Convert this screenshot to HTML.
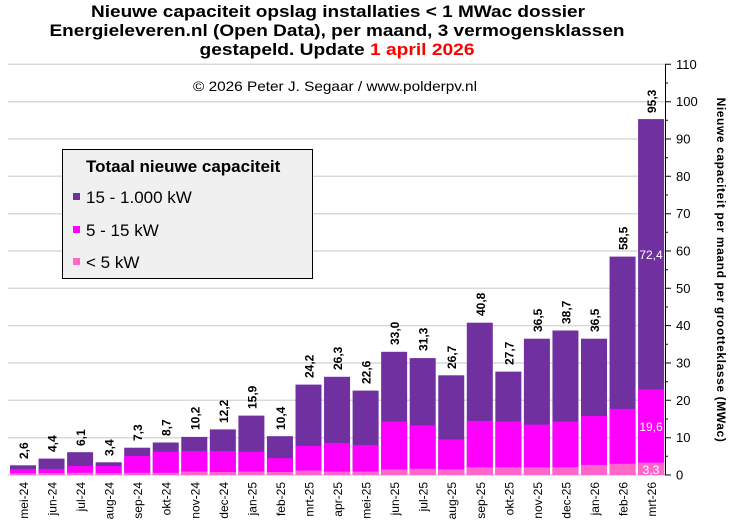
<!DOCTYPE html>
<html><head><meta charset="utf-8"><style>
html,body{margin:0;padding:0;background:#fff}
svg{display:block;font-family:"Liberation Sans","DejaVu Sans",sans-serif}
</style></head><body>
<svg width="731" height="527" viewBox="0 0 731 527" xmlns="http://www.w3.org/2000/svg">
<g stroke="#d9d9d9" stroke-width="1.5">
<line x1="8" x2="665" y1="64.3" y2="64.3"/><line x1="8" x2="665" y1="101.7" y2="101.7"/><line x1="8" x2="665" y1="139" y2="139"/><line x1="8" x2="665" y1="176.3" y2="176.3"/><line x1="8" x2="665" y1="213.7" y2="213.7"/><line x1="8" x2="665" y1="251" y2="251"/><line x1="8" x2="665" y1="288.3" y2="288.3"/><line x1="8" x2="665" y1="325.6" y2="325.6"/><line x1="8" x2="665" y1="363" y2="363"/><line x1="8" x2="665" y1="400.3" y2="400.3"/><line x1="8" x2="665" y1="437.7" y2="437.7"/><line x1="8" x2="665" y1="475" y2="475"/>
</g>
<g fill="#7030a0">
<rect x="10" y="465.3" width="26" height="9.7"/><rect x="38.55" y="458.6" width="26" height="16.4"/><rect x="67.1" y="452.2" width="26" height="22.8"/><rect x="95.65" y="462.3" width="26" height="12.7"/><rect x="124.2" y="447.7" width="26" height="27.3"/><rect x="152.75" y="442.5" width="26" height="32.5"/><rect x="181.3" y="436.9" width="26" height="38.1"/><rect x="209.85" y="429.4" width="26" height="45.6"/><rect x="238.4" y="415.6" width="26" height="59.4"/><rect x="266.95" y="436.2" width="26" height="38.8"/><rect x="295.5" y="384.6" width="26" height="90.4"/><rect x="324.05" y="376.8" width="26" height="98.2"/><rect x="352.6" y="390.6" width="26" height="84.4"/><rect x="381.15" y="351.8" width="26" height="123.2"/><rect x="409.7" y="358.1" width="26" height="116.9"/><rect x="438.25" y="375.3" width="26" height="99.7"/><rect x="466.8" y="322.7" width="26" height="152.3"/><rect x="495.35" y="371.6" width="26" height="103.4"/><rect x="523.9" y="338.7" width="26" height="136.3"/><rect x="552.45" y="330.5" width="26" height="144.5"/><rect x="581" y="338.7" width="26" height="136.3"/><rect x="609.55" y="256.6" width="26" height="218.4"/><rect x="638.1" y="119.1" width="26" height="355.9"/>
</g>
<g fill="#ff00ff">
<rect x="10" y="469" width="26" height="6"/><rect x="38.55" y="469" width="26" height="6"/><rect x="67.1" y="466" width="26" height="9"/><rect x="95.65" y="466" width="26" height="9"/><rect x="124.2" y="456" width="26" height="19"/><rect x="152.75" y="451.8" width="26" height="23.2"/><rect x="181.3" y="451.1" width="26" height="23.9"/><rect x="209.85" y="451.1" width="26" height="23.9"/><rect x="238.4" y="451.8" width="26" height="23.2"/><rect x="266.95" y="458.2" width="26" height="16.8"/><rect x="295.5" y="445.9" width="26" height="29.1"/><rect x="324.05" y="442.9" width="26" height="32.1"/><rect x="352.6" y="445.1" width="26" height="29.9"/><rect x="381.15" y="421.6" width="26" height="53.4"/><rect x="409.7" y="425.3" width="26" height="49.7"/><rect x="438.25" y="439.5" width="26" height="35.5"/><rect x="466.8" y="420.9" width="26" height="54.1"/><rect x="495.35" y="421.6" width="26" height="53.4"/><rect x="523.9" y="424.6" width="26" height="50.4"/><rect x="552.45" y="421.6" width="26" height="53.4"/><rect x="581" y="416" width="26" height="59"/><rect x="609.55" y="408.9" width="26" height="66.1"/><rect x="638.1" y="389.5" width="26" height="85.5"/>
</g>
<g fill="#ff66cc">
<rect x="10" y="473.1" width="26" height="1.9"/><rect x="38.55" y="473.1" width="26" height="1.9"/><rect x="67.1" y="472.8" width="26" height="2.2"/><rect x="95.65" y="473.1" width="26" height="1.9"/><rect x="124.2" y="472.8" width="26" height="2.2"/><rect x="152.75" y="472.8" width="26" height="2.2"/><rect x="181.3" y="471.6" width="26" height="3.4"/><rect x="209.85" y="472" width="26" height="3"/><rect x="238.4" y="471.6" width="26" height="3.4"/><rect x="266.95" y="472" width="26" height="3"/><rect x="295.5" y="470.5" width="26" height="4.5"/><rect x="324.05" y="471.6" width="26" height="3.4"/><rect x="352.6" y="471.6" width="26" height="3.4"/><rect x="381.15" y="469.4" width="26" height="5.6"/><rect x="409.7" y="468.7" width="26" height="6.3"/><rect x="438.25" y="469.4" width="26" height="5.6"/><rect x="466.8" y="467.2" width="26" height="7.8"/><rect x="495.35" y="467.2" width="26" height="7.8"/><rect x="523.9" y="467.2" width="26" height="7.8"/><rect x="552.45" y="467.2" width="26" height="7.8"/><rect x="581" y="464.9" width="26" height="10.1"/><rect x="609.55" y="463.8" width="26" height="11.2"/><rect x="638.1" y="462.7" width="26" height="12.3"/>
</g>
<g font-size="12" font-weight="bold" fill="#000">
<text transform="translate(28,459) rotate(-90)">2,6</text>
<text transform="translate(56.5,452) rotate(-90)">4,4</text>
<text transform="translate(85,446) rotate(-90)">6,1</text>
<text transform="translate(113.5,456) rotate(-90)">3,4</text>
<text transform="translate(142,441) rotate(-90)">7,3</text>
<text transform="translate(170.7,436) rotate(-90)">8,7</text>
<text transform="translate(199.3,430) rotate(-90)">10,2</text>
<text transform="translate(227.8,423) rotate(-90)">12,2</text>
<text transform="translate(256.4,409) rotate(-90)">15,9</text>
<text transform="translate(285,430) rotate(-90)">10,4</text>
<text transform="translate(313.5,378) rotate(-90)">24,2</text>
<text transform="translate(342,370) rotate(-90)">26,3</text>
<text transform="translate(370.6,384) rotate(-90)">22,6</text>
<text transform="translate(399.1,345) rotate(-90)">33,0</text>
<text transform="translate(427.7,351) rotate(-90)">31,3</text>
<text transform="translate(456.2,369) rotate(-90)">26,7</text>
<text transform="translate(484.8,316) rotate(-90)">40,8</text>
<text transform="translate(513.3,365) rotate(-90)">27,7</text>
<text transform="translate(541.9,332) rotate(-90)">36,5</text>
<text transform="translate(570.4,324) rotate(-90)">38,7</text>
<text transform="translate(599,332) rotate(-90)">36,5</text>
<text transform="translate(627.5,250) rotate(-90)">58,5</text>
<text transform="translate(656,113) rotate(-90)">95,3</text>
</g>
<g font-size="12" fill="#fff" text-anchor="middle">
<text x="651" y="259">72,4</text><text x="651" y="431">19,6</text><text x="651" y="474">3,3</text>
</g>
<g font-size="12" fill="#000" text-anchor="end">
<text transform="translate(28,482) rotate(-90)">mei-24</text>
<text transform="translate(56.5,482) rotate(-90)">jun-24</text>
<text transform="translate(85,482) rotate(-90)">jul-24</text>
<text transform="translate(113.5,482) rotate(-90)">aug-24</text>
<text transform="translate(142,482) rotate(-90)">sep-24</text>
<text transform="translate(170.7,482) rotate(-90)">okt-24</text>
<text transform="translate(199.3,482) rotate(-90)">nov-24</text>
<text transform="translate(227.8,482) rotate(-90)">dec-24</text>
<text transform="translate(256.4,482) rotate(-90)">jan-25</text>
<text transform="translate(285,482) rotate(-90)">feb-25</text>
<text transform="translate(313.5,482) rotate(-90)">mrt-25</text>
<text transform="translate(342,482) rotate(-90)">apr-25</text>
<text transform="translate(370.6,482) rotate(-90)">mei-25</text>
<text transform="translate(399.1,482) rotate(-90)">jun-25</text>
<text transform="translate(427.7,482) rotate(-90)">jul-25</text>
<text transform="translate(456.2,482) rotate(-90)">aug-25</text>
<text transform="translate(484.8,482) rotate(-90)">sep-25</text>
<text transform="translate(513.3,482) rotate(-90)">okt-25</text>
<text transform="translate(541.9,482) rotate(-90)">nov-25</text>
<text transform="translate(570.4,482) rotate(-90)">dec-25</text>
<text transform="translate(599,482) rotate(-90)">jan-26</text>
<text transform="translate(627.5,482) rotate(-90)">feb-26</text>
<text transform="translate(656,482) rotate(-90)">mrt-26</text>
</g>
<g stroke="#000" stroke-width="1">
<line x1="665.5" x2="665.5" y1="64" y2="475.5"/>
<path d="M665 64.3h6M665 101.7h6M665 139h6M665 176.3h6M665 213.7h6M665 251h6M665 288.3h6M665 325.6h6M665 363h6M665 400.3h6M665 437.7h6M665 475h6"/>
<path d="M665 83h3M665 120.3h3M665 157.7h3M665 195h3M665 232.3h3M665 269.7h3M665 307h3M665 344.3h3M665 381.7h3M665 419h3M665 456.3h3"/>
</g>
<g font-size="13" fill="#000">
<text x="676" y="69">110</text><text x="676" y="106">100</text><text x="676" y="143.5">90</text><text x="676" y="181">80</text><text x="676" y="218">70</text><text x="676" y="255.5">60</text><text x="676" y="293">50</text><text x="676" y="330">40</text><text x="676" y="367.5">30</text><text x="676" y="405">20</text><text x="676" y="442">10</text><text x="676" y="479.5">0</text>
</g>
<text transform="translate(717,270) rotate(90)" font-size="12" font-weight="bold" text-anchor="middle" letter-spacing="0.6">Nieuwe capaciteit per maand per grootteklasse (MWac)</text>
<g font-size="17" font-weight="bold" text-anchor="middle" fill="#000">
<text x="338" y="17" textLength="494" lengthAdjust="spacingAndGlyphs">Nieuwe capaciteit opslag installaties  &lt; 1 MWac dossier</text>
<text x="337" y="36" textLength="575" lengthAdjust="spacingAndGlyphs">Energieleveren.nl (Open Data), per maand, 3 vermogensklassen</text>
<text x="337" y="55" textLength="275" lengthAdjust="spacingAndGlyphs">gestapeld. Update <tspan fill="#ff0000">1 april 2026</tspan></text>
</g>
<text x="335" y="91" font-size="14" text-anchor="middle" textLength="284" lengthAdjust="spacingAndGlyphs">© 2026 Peter J. Segaar / www.polderpv.nl</text>
<rect x="62.5" y="149.5" width="250" height="129" fill="#f0f0f0" stroke="#000" stroke-width="1"/>
<text x="86" y="172" font-size="17" font-weight="bold">Totaal nieuwe capaciteit</text>
<rect x="73" y="193" width="7" height="7" fill="#7030a0"/><text x="86" y="203" font-size="17">15 - 1.000 kW</text>
<rect x="73" y="226" width="7" height="7" fill="#ff00ff"/><text x="86" y="236" font-size="17">5 - 15 kW</text>
<rect x="73" y="258" width="7" height="7" fill="#ff66cc"/><text x="86" y="268" font-size="17">&lt; 5 kW</text>
</svg>
</body></html>
